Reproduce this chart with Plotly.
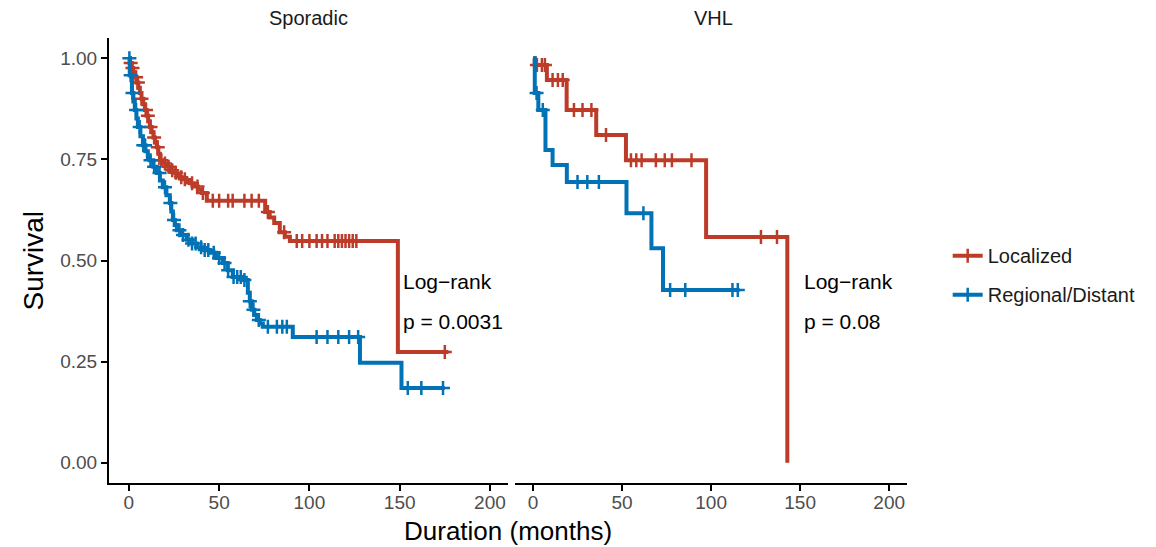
import numpy as np
import plotly.graph_objects as go

# Kaplan-Meier step estimates (time in months, survival probability)
spor_loc_t = [0, 0.5, 1.5, 2.4, 3.3, 4.2, 5.2, 6.1, 7.0, 8.0, 8.9, 9.8, 10.7, 11.6, 12.6,
              13.6, 14.5, 15.5, 16.3, 17.2, 19.0, 20.8, 22.7, 24.5, 26.3, 28.2, 30.0,
              31.9, 33.8, 36.0, 38.2, 40.4, 43.2, 75.5, 78.0, 80.5, 83.6, 86.4, 89.2, 149.0]
spor_loc_s = [1.0, 0.988, 0.976, 0.965, 0.953, 0.940, 0.927, 0.914, 0.900, 0.886, 0.872,
              0.858, 0.844, 0.830, 0.817, 0.804, 0.792, 0.780, 0.764, 0.748, 0.740, 0.732,
              0.723, 0.717, 0.711, 0.706, 0.701, 0.696, 0.691, 0.683, 0.675, 0.667, 0.648,
              0.620, 0.606, 0.593, 0.570, 0.559, 0.548, 0.274]
spor_loc_end = 177
spor_loc_cens = [1, 2, 4, 5, 7, 9.5, 10.5, 12, 14, 16, 18, 20, 22, 24, 26, 29, 31, 35, 38, 41,
                 46.5, 50, 55, 57.5, 64, 68, 72, 77, 86, 93, 96, 100, 104, 107, 110, 114,
                 116, 118, 120, 122, 124, 126, 175]

spor_reg_t = [0, 0.5, 1.7, 2.5, 3.3, 4.2, 5.0, 6.4, 7.8, 9.2, 10.5, 11.6, 13.5, 15.5, 17.2,
              18.8, 20.8, 22.7, 23.5, 24.4, 25.5, 26.6, 29.3, 32.1, 34.9, 37.7, 41.3, 44.9,
              48.5, 52.0, 54.8, 57.6, 63.1, 65.9, 67.0, 68.1, 69.5, 70.9, 72.5, 74.2, 90.8,
              128.0, 151.0]
spor_reg_s = [1.0, 0.958, 0.914, 0.893, 0.872, 0.851, 0.830, 0.807, 0.785, 0.770, 0.756,
              0.748, 0.732, 0.716, 0.698, 0.681, 0.661, 0.642, 0.621, 0.600, 0.588, 0.575,
              0.563, 0.551, 0.542, 0.533, 0.526, 0.519, 0.506, 0.494, 0.476, 0.459, 0.452,
              0.420, 0.399, 0.378, 0.365, 0.353, 0.344, 0.336, 0.311, 0.247, 0.185]
spor_reg_end = 175
spor_reg_cens = [0.3, 1, 2, 4, 6, 8, 9, 12, 14, 17, 20, 23, 25, 28, 30, 33, 35, 37, 40, 42,
                 44, 47, 50, 53, 55, 58, 60, 62, 64, 67, 69, 72, 77, 82, 85, 87.5, 104, 110,
                 116, 122, 127, 154.5, 162, 174]

vhl_loc_t = [0, 1.0, 7.8, 18.9, 35.5, 52.2, 97.2, 142.8]
vhl_loc_s = [1.0, 0.983, 0.946, 0.872, 0.810, 0.748, 0.558, 0.0]
vhl_loc_end = 142.8
vhl_loc_cens = [2.2, 5, 6.7, 11, 14, 16.7, 23, 27.8, 32.8, 41, 55, 58, 61, 69, 74, 78, 89,
                128, 137]

vhl_reg_t = [0, 1.0, 3.0, 7.0, 11.0, 19.0, 52.5, 66.5, 73.0]
vhl_reg_s = [1.0, 0.914, 0.872, 0.773, 0.736, 0.694, 0.617, 0.530, 0.427]
vhl_reg_end = 116
vhl_reg_cens = [2, 5.5, 25, 30.5, 37, 62, 77, 85.5, 112, 115]

groups = ["Localized", "Regional/Distant"]
colors = {"Localized": "#BC3C29", "Regional/Distant": "#0072B5"}
panels = ["Sporadic", "VHL"]
pvalues = ["p = 0.0031", "p = 0.08"]
x_ticks = [0, 50, 100, 150, 200]
y_ticks = [0, 0.25, 0.5, 0.75, 1.0]
y_ticktext = ["0.00", "0.25", "0.50", "0.75", "1.00"]

curves = [
    ("x", "y", "Localized", spor_loc_t, spor_loc_s, spor_loc_end, spor_loc_cens),
    ("x", "y", "Regional/Distant", spor_reg_t, spor_reg_s, spor_reg_end, spor_reg_cens),
    ("x2", "y2", "Localized", vhl_loc_t, vhl_loc_s, vhl_loc_end, vhl_loc_cens),
    ("x2", "y2", "Regional/Distant", vhl_reg_t, vhl_reg_s, vhl_reg_end, vhl_reg_cens),
]


def step_value(times, surv, at):
    idx = np.searchsorted(np.asarray(times), np.asarray(at), side="right") - 1
    return np.asarray(surv)[idx]


LINE_W = 4
CROSS = dict(symbol="cross-thin", size=10)

fig = go.Figure()
for xa, ya, grp, t, s, t_end, cens in curves:
    col = colors[grp]
    fig.add_trace(go.Scatter(
        x=list(t) + [t_end], y=list(s) + [s[-1]], xaxis=xa, yaxis=ya,
        mode="lines", line=dict(color=col, width=LINE_W, shape="hv"),
        showlegend=False, hoverinfo="skip"))
    fig.add_trace(go.Scatter(
        x=cens, y=step_value(t, s, cens), xaxis=xa, yaxis=ya, mode="markers",
        marker=dict(**CROSS, line=dict(color=col, width=2.5)),
        showlegend=False, hoverinfo="skip"))

# legend entries
for grp in groups:
    fig.add_trace(go.Scatter(
        x=[None], y=[None], mode="lines+markers", name=grp, legendgroup=grp,
        line=dict(color=colors[grp], width=LINE_W),
        marker=dict(**CROSS, line=dict(color=colors[grp], width=2.5))))

font_family = "Liberation Sans, Arial, sans-serif"
tick_font = dict(family=font_family, size=19, color="#4D4D4D")
axis_common = dict(tickvals=x_ticks, showline=True, linecolor="black",
                   linewidth=2, ticks="outside", ticklen=6, tickwidth=2, tickcolor="black",
                   tickfont=tick_font, showgrid=False, zeroline=False,
                   ticklabelstandoff=-5)

fig.update_layout(
    width=1156, height=547,
    margin=dict(l=109, r=249, t=38, b=64, autoexpand=False),
    plot_bgcolor="white", paper_bgcolor="white",
    font=dict(family=font_family, color="black"),
    xaxis=dict(domain=[0, 0.5], anchor="y", range=[-11, 210], **axis_common),
    xaxis2=dict(domain=[0.509, 1], anchor="y2", range=[-10, 210], **axis_common),
    yaxis=dict(range=[-0.05, 1.05], tickvals=y_ticks, ticktext=y_ticktext, showline=True,
               linecolor="black", linewidth=2, ticks="outside", ticklen=6, tickwidth=2,
               tickcolor="black", tickfont=tick_font, showgrid=False, zeroline=False,
               anchor="x"),
    yaxis2=dict(range=[-0.05, 1.05], showline=False, showticklabels=False, ticks="",
                showgrid=False, zeroline=False, anchor="x2"),
    legend=dict(x=1.051, y=0.467, xanchor="left", yanchor="middle",
                traceorder="grouped", tracegroupgap=10,
                font=dict(family=font_family, size=20, color="#1A1A1A"),
                bgcolor="rgba(0,0,0,0)"),
)

annotations = []
centers = [0.25, 0.758]
for name, cx in zip(panels, centers):
    annotations.append(dict(text=name, x=cx, y=1.045, xref="paper", yref="paper",
                            showarrow=False, xanchor="center", yanchor="middle",
                            font=dict(family=font_family, size=20, color="#1A1A1A")))
for (xr, yr), p in zip([("x", "y"), ("x2", "y2")], pvalues):
    annotations.append(dict(text="Log\u2212rank", x=151, y=0.447, xref=xr, yref=yr,
                            showarrow=False, xanchor="left", yanchor="middle",
                            font=dict(family=font_family, size=21, color="black")))
    annotations.append(dict(text=p, x=151, y=0.348, xref=xr, yref=yr,
                            showarrow=False, xanchor="left", yanchor="middle",
                            font=dict(family=font_family, size=21, color="black")))
annotations.append(dict(text="Survival", x=-0.0952, y=0.5, xref="paper", yref="paper",
                        showarrow=False, textangle=-90, xanchor="center", yanchor="middle",
                        font=dict(family=font_family, size=28, color="black")))
annotations.append(dict(text="Duration (months)", x=0.5, y=-0.108, xref="paper",
                        yref="paper", showarrow=False, xanchor="center", yanchor="middle",
                        font=dict(family=font_family, size=26, color="black")))
fig.update_layout(annotations=annotations)

fig.write_html("out.html")
